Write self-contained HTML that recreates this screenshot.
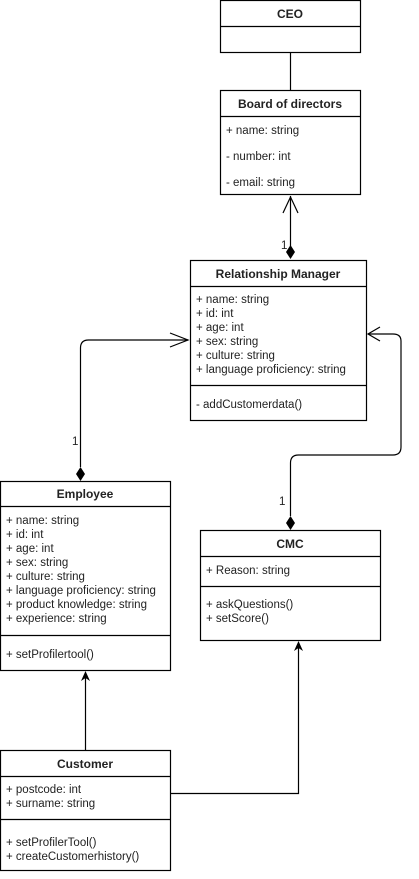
<!DOCTYPE html>
<html><head><style>
body{margin:0;width:419px;height:874px;background:#fff;overflow:hidden}
svg text{font-family:"Liberation Sans",sans-serif;font-size:11.5px;fill:#222}
.b{font-weight:bold;font-size:12px}
</style></head><body>
<svg width="419" height="874" xmlns="http://www.w3.org/2000/svg">
<g fill="none" stroke="#000" stroke-width="1.2">
<rect x="220.5" y="0.5" width="140" height="52"/><line x1="220" y1="26.5" x2="361" y2="26.5"/>
<rect x="220.5" y="90.5" width="140" height="104"/><line x1="220" y1="116.5" x2="361" y2="116.5"/>
<rect x="190.5" y="260.5" width="176" height="160"/><line x1="190" y1="286.5" x2="367" y2="286.5"/><line x1="190" y1="385.5" x2="367" y2="385.5"/>
<rect x="0.5" y="481.5" width="170" height="189"/><line x1="0" y1="506.5" x2="171" y2="506.5"/><line x1="0" y1="635.5" x2="171" y2="635.5"/>
<rect x="200.5" y="530.5" width="180" height="110"/><line x1="200" y1="556.5" x2="381" y2="556.5"/><line x1="200" y1="586.5" x2="381" y2="586.5"/>
<rect x="0.5" y="750.5" width="170" height="120"/><line x1="0" y1="776.5" x2="171" y2="776.5"/><line x1="0" y1="819.5" x2="171" y2="819.5"/>
<line x1="290.5" y1="52" x2="290.5" y2="90"/>
<line x1="290.5" y1="196" x2="290.5" y2="246"/>
<polyline points="283,213 290.5,197 298,213"/>
<path d="M80.5 467 V348 Q80.5 340 88.5 340 H188"/>
<polyline points="170,333 188,340 170,347"/>
<path d="M290.5 516 V463 Q290.5 455 298.5 455 H393 Q401 455 401 447 V341 Q401 334 393 334 H368"/>
<polyline points="380,327 368,334 380,341"/>
<line x1="85.5" y1="750" x2="85.5" y2="676"/>
<path d="M170 793.5 H298.5 V646"/>
</g>
<g fill="#000">
<polygon points="290.5,245 295,252 290.5,259 286,252"/>
<polygon points="80.5,467 85,474 80.5,481 76,474"/>
<polygon points="290.5,516 295,523 290.5,530 286,523"/>
<polygon points="85.5,671 81,681 85.5,678 90,681"/>
<polygon points="298.5,641 294,651 298.5,648 303,651"/>
</g>
<text class="b" x="290" y="18" text-anchor="middle">CEO</text>
<text class="b" x="290" y="108" text-anchor="middle">Board of directors</text>
<text x="226" y="134">+ name: string</text>
<text x="226" y="160">- number: int</text>
<text x="226" y="186">- email: string</text>
<text x="281" y="249">1</text>
<text class="b" x="278" y="278" text-anchor="middle">Relationship Manager</text>
<text x="196" y="303">+ name: string</text>
<text x="196" y="317">+ id: int</text>
<text x="196" y="331">+ age: int</text>
<text x="196" y="345">+ sex: string</text>
<text x="196" y="359">+ culture: string</text>
<text x="196" y="373">+ language proficiency: string</text>
<text x="196" y="408">- addCustomerdata()</text>
<text x="72" y="445">1</text>
<text class="b" x="85" y="498" text-anchor="middle">Employee</text>
<text x="6" y="524">+ name: string</text>
<text x="6" y="538">+ id: int</text>
<text x="6" y="552">+ age: int</text>
<text x="6" y="566">+ sex: string</text>
<text x="6" y="580">+ culture: string</text>
<text x="6" y="594">+ language proficiency: string</text>
<text x="6" y="608">+ product knowledge: string</text>
<text x="6" y="622">+ experience: string</text>
<text x="6" y="658">+ setProfilertool()</text>
<text x="279" y="505">1</text>
<text class="b" x="290" y="548" text-anchor="middle">CMC</text>
<text x="206" y="574">+ Reason: string</text>
<text x="206" y="608">+ askQuestions()</text>
<text x="206" y="622">+ setScore()</text>
<text class="b" x="85" y="768" text-anchor="middle">Customer</text>
<text x="6" y="793">+ postcode: int</text>
<text x="6" y="807">+ surname: string</text>
<text x="6" y="846">+ setProfilerTool()</text>
<text x="6" y="860">+ createCustomerhistory()</text>
</svg>
</body></html>
